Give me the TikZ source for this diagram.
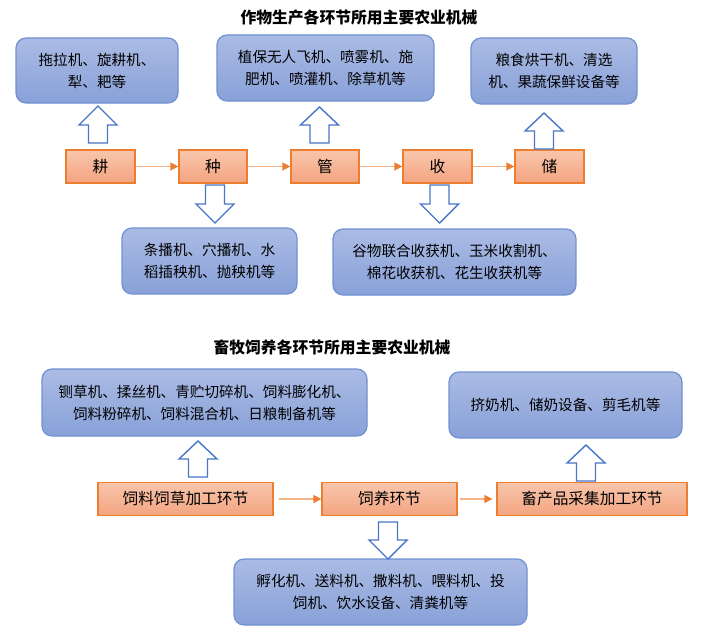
\documentclass[tikz,border=0pt]{standalone}
\usepackage{fontspec}
\usepackage{tikz}
\usetikzlibrary{arrows.meta}
\setmainfont{Noto Sans CJK SC}

\definecolor{boxtop}{RGB}{171,187,228}
\definecolor{boxbot}{RGB}{136,161,216}
\definecolor{boxline}{RGB}{112,145,210}
\definecolor{steptop}{RGB}{248,198,172}
\definecolor{stepbot}{RGB}{244,164,128}
\definecolor{stepline}{RGB}{237,125,49}
\definecolor{flowline}{RGB}{245,178,134}
\definecolor{hollowline}{RGB}{72,118,200}

\tikzset{
  machbox/.style={draw=boxline, line width=1.2pt, rounded corners=10pt,
    top color=boxtop, bottom color=boxbot, align=center, inner sep=0pt,
    font=\fontsize{14.6}{22}\selectfont},
  stagebox/.style={draw=stepline, line width=1.2pt,
    top color=steptop, bottom color=stepbot, inner sep=0pt,
    minimum height=33pt, font=\fontsize{15.7}{18}\selectfont},
  flow/.style={draw=flowline, line width=1.4pt,
    -{Triangle[length=8pt,width=8pt,color=stepline]}},
  hollow/.style={draw=hollowline, line width=1.4pt, fill=white, line join=miter},
  heading/.style={font=\fontsize{15.8}{18}\selectfont\bfseries}
}

% block arrow: centre x, tail y, head base y, tip y
\newcommand{\blockarr}[4]{%
  \draw[hollow] (#1-9.5,#2) -- (#1-9.5,#3) -- (#1-19,#3) -- (#1,#4)
    -- (#1+19,#3) -- (#1+9.5,#3) -- (#1+9.5,#2) -- cycle;}

\begin{document}
\begin{tikzpicture}[x=1pt, y=-1pt]
\useasboundingbox (0,0) rectangle (703,634);

% Crop production
\node[heading] (title1) at (359,18) {作物生产各环节所用主要农业机械};

\node[machbox, minimum width=162pt, minimum height=65pt] (tillmach) at (97,70.5) {拖拉机、旋耕机、\\犁、耙等};
\node[machbox, minimum width=217pt, minimum height=66pt] (managemach) at (325.5,68) {植保无人飞机、喷雾机、施\\肥机、喷灌机、除草机等};
\node[machbox, minimum width=166pt, minimum height=66pt] (storemach) at (554,71) {粮食烘干机、清选\\机、果蔬保鲜设备等};

\node[stagebox, minimum width=69pt] (till) at (100.5,166.5) {耕};
\node[stagebox, minimum width=68pt] (sow) at (213,166.5) {种};
\node[stagebox, minimum width=68pt] (manage) at (325,166.5) {管};
\node[stagebox, minimum width=69pt] (harvest) at (437.5,166.5) {收};
\node[stagebox, minimum width=69pt] (store) at (549.5,166.5) {储};

\draw[flow] (till) -- (sow);
\draw[flow] (sow) -- (manage);
\draw[flow] (manage) -- (harvest);
\draw[flow] (harvest) -- (store);

\node[machbox, minimum width=175pt, minimum height=66pt] (sowmach) at (209.5,261) {条播机、穴播机、水\\稻插秧机、抛秧机等};
\node[machbox, minimum width=243pt, minimum height=66pt] (harvestmach) at (454.5,262) {谷物联合收获机、玉米收割机、\\棉花收获机、花生收获机等};

\blockarr{98}{143}{125}{106}
\blockarr{319.5}{143}{125}{107}
\blockarr{544}{149}{131}{113}
\blockarr{215}{185}{204}{223}
\blockarr{439.5}{185}{204}{223}

% Livestock breeding
\node[heading] (title2) at (332,347) {畜牧饲养各环节所用主要农业机械};

\node[machbox, minimum width=325pt, minimum height=67pt] (feedmach) at (204.5,402.5) {铡草机、揉丝机、青贮切碎机、饲料膨化机、\\饲料粉碎机、饲料混合机、日粮制备机等};
\node[machbox, minimum width=233pt, minimum height=66pt] (productmach) at (565.5,405) {挤奶机、储奶设备、剪毛机等};

\node[stagebox, minimum width=175pt] (feed) at (185.5,499) {饲料饲草加工环节};
\node[stagebox, minimum width=135pt] (raise) at (389.5,499) {饲养环节};
\node[stagebox, minimum width=190pt] (product) at (592,499) {畜产品采集加工环节};

\draw[flow, shorten <=5pt] (feed) -- (raise);
\draw[flow, shorten <=2pt, shorten >=4pt] (raise) -- (product);

\node[machbox, minimum width=293pt, minimum height=66pt] (raisemach) at (380.5,592) {孵化机、送料机、撒料机、喂料机、投\\饲机、饮水设备、清粪机等};

\blockarr{198}{477}{459}{441}
\blockarr{586}{481}{463}{445}
\blockarr{388}{522}{540}{559}
\end{tikzpicture}
\end{document}
